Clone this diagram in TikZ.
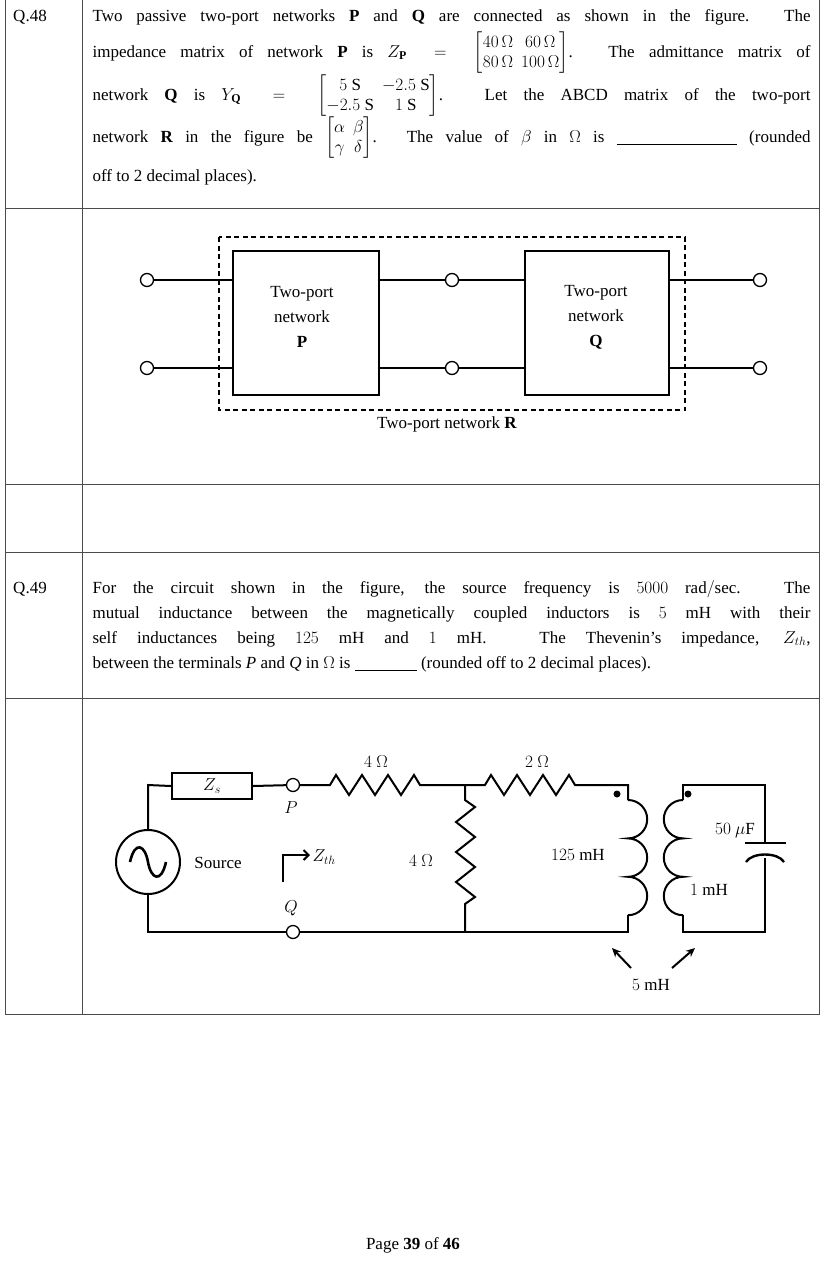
\documentclass[tikz,border=0pt]{standalone}
\usepackage{amsmath}
\usepackage{fontspec}
\setmainfont{Liberation Serif}
\usetikzlibrary{arrows.meta}
\begin{document}
\begin{tikzpicture}[x=1pt,y=-1pt,line width=1.1pt,
  txt/.style={font=\fontsize{17}{20}\selectfont,inner sep=0pt},
  jl/.style={txt,anchor=west,text width=718pt,align=justify,execute at begin node={\parfillskip=0pt\arraycolsep=4pt}},
  grid/.style={line width=0.6pt,draw=black!70},
  term/.style={circle,draw,line width=1.3pt,fill=white,minimum size=13pt,inner sep=0pt},
  w/.style={line width=2pt},
  box/.style={draw,line width=2pt,inner sep=0pt}]
\useasboundingbox (0,0) rectangle (830,1262);
% table
\draw[grid] (5,0) -- (5,1014) -- (819,1014) -- (819,0);
\foreach \yy in {208,484,552,698} \draw[grid] (5,\yy) -- (819,\yy);
\draw[grid] (82,0) -- (82,1014);
\node[txt] (q48) at (30,17) {Q.48};
\node[txt] (q49) at (30,589) {Q.49};
% Q48 text
\node[jl] (l1) at (92,17) {Two passive two-port networks \textbf{P} and \textbf{Q} are connected as shown in the figure. The};
\node[jl] (l2) at (92,53) {impedance matrix of network \textbf{P} is $Z_{\mathbf P}=\begin{bmatrix}40\,\Omega & 60\,\Omega\\ 80\,\Omega & 100\,\Omega\end{bmatrix}$. The admittance matrix of};
\node[jl] (l3) at (92,96) {network \textbf{Q} is $Y_{\mathbf Q}=\begin{bmatrix}5\ \mathrm S & -2.5\ \mathrm S\\ -2.5\ \mathrm S & 1\ \mathrm S\end{bmatrix}$. Let the ABCD matrix of the two-port};
\node[jl] (l4) at (92,138) {network \textbf{R} in the figure be $\begin{bmatrix}\alpha & \beta\\ \gamma & \delta\end{bmatrix}$. The value of $\beta$ in $\Omega$ is \underline{\hspace{120pt}} (rounded};
\node[txt,anchor=west] (l5) at (92,177) {off to 2 decimal places).};
% Figure 1
\draw[line width=1.8pt,dash pattern=on 5pt off 3.5pt] (219,237) rectangle (685,410);
\node[box,minimum width=146pt,minimum height=144pt] (P) at (306,323) {};
\node[box,minimum width=144pt,minimum height=144pt] (Q) at (597,323) {};
\node[txt,align=center,font=\fontsize{17}{25}\selectfont] at (302,317) {Two-port\\network\\\textbf{P}};
\node[txt,align=center,font=\fontsize{17}{25}\selectfont] at (596,317) {Two-port\\network\\\textbf{Q}};
\node[term] (a1) at (147,280) {}; \node[term] (a2) at (147,368) {};
\node[term] (b1) at (452,280) {}; \node[term] (b2) at (452,368) {};
\node[term] (c1) at (760,280) {}; \node[term] (c2) at (760,368) {};
\draw[w] (a1) -- (P.west|-a1); \draw[w] (a2) -- (P.west|-a2);
\draw[w] (P.east|-b1) -- (b1) -- (Q.west|-b1);
\draw[w] (P.east|-b2) -- (b2) -- (Q.west|-b2);
\draw[w] (Q.east|-c1) -- (c1); \draw[w] (Q.east|-c2) -- (c2);
\node[txt] (Rl) at (447,424) {Two-port network \textbf{R}};
% Q49 text
\node[jl] (m1) at (92,589) {For the circuit shown in the figure, the source frequency is $5000\ \mathrm{rad/sec}$. The};
\node[jl] (m2) at (92,614) {mutual inductance between the magnetically coupled inductors is $5\ \mathrm{mH}$ with their};
\node[jl] (m3) at (92,639) {self inductances being $125\ \mathrm{mH}$ and $1\ \mathrm{mH}$. The Thevenin's impedance, $Z_{th}$,};
\node[txt,anchor=west] (m4) at (92,664) {between the terminals \textit{P} and \textit{Q} in $\Omega$ is \underline{\hspace{62pt}} (rounded off to 2 decimal places).};
% Circuit
\node[box,minimum width=80pt,minimum height=26pt,font=\fontsize{17}{20}\selectfont] (Zs) at (212,786) {$Z_s$};
\node[circle,draw,line width=2pt,minimum size=64pt,inner sep=0pt] (src) at (148,862) {};
\draw[line width=2.6pt] (130,862) .. controls (135,840) and (145,845) .. (148,862) .. controls (151,879) and (161,884) .. (166,862);
\node[term] (P1) at (293,785) {};
\node[term] (Q1) at (293,932) {};
\coordinate (J) at (465,785);
\coordinate (Jb) at (465,932);
\draw[w] (src.north) -- (148,785) -- (Zs.west);
\draw[w] (Zs.east) -- (P1);
\draw[w] (src.south) -- (148,932) -- (Q1) -- (Jb) -- (628,932) -- (628,915);
\draw[w] (P1) -- (330,785) -- (336,775) -- (349,795) -- (362,775) -- (375,795) -- (388,775) -- (401,795) -- (414,775) -- (420,785) -- (J);
\draw[w] (J) -- (485,785) -- (491,775) -- (504,795) -- (517,775) -- (530,795) -- (543,775) -- (556,795) -- (569,775) -- (575,785) -- (628,785) -- (628,800);
\draw[w] (J) -- (465,800) -- (475,807) -- (456,822) -- (475,837) -- (456,852) -- (475,867) -- (456,882) -- (475,897) -- (465,904) -- (Jb);
\draw[w] (628,800) arc (-90:90:19.2) arc (-90:90:19.2) arc (-90:90:19.2);
\draw[w] (683,800) arc (270:90:19.2) arc (270:90:19.2) arc (270:90:19.2);
\draw[w] (683,800) -- (683,785) -- (765,785) -- (765,843);
\draw[w] (683,915) -- (683,932) -- (765,932) -- (765,858);
\draw[line width=2.4pt] (745,843) -- (786,843);
\draw[line width=2.4pt] (746,862) .. controls (752,852) and (778,852) .. (784,862);
\fill (617,794) circle (3.5pt);
\fill (688,794) circle (3.5pt);
\draw[w,-{Stealth[length=9pt,width=8pt]}] (631,968) -- (612,948);
\draw[w,-{Stealth[length=9pt,width=8pt]}] (672,968) -- (695,948);
\coordinate (za) at (283,882);
\coordinate (zb) at (310,855);
\draw[w,-{Straight Barb[length=5pt]}] (za) -- (283,855) -- (zb);
\node[txt,anchor=west] (Zth) at (312,857) {$Z_{th}$};
\node[txt] (srcl) at (218,863) {Source};
\node[txt] at (376,762) {$4\ \Omega$};
\node[txt] at (537,762) {$2\ \Omega$};
\node[txt] at (421,861) {$4\ \Omega$};
\node[txt] at (578,855) {$125\ \mathrm{mH}$};
\node[txt] at (735,831) {$50\ \mu\mathrm F$};
\node[txt] at (709,890) {$1\ \mathrm{mH}$};
\node[txt] at (651,985) {$5\ \mathrm{mH}$};
\node[txt] at (291,808) {$P$};
\node[txt] at (291,908) {$Q$};
\node[txt] (pg) at (413,1245) {Page \textbf{39} of \textbf{46}};
\end{tikzpicture}
\end{document}
